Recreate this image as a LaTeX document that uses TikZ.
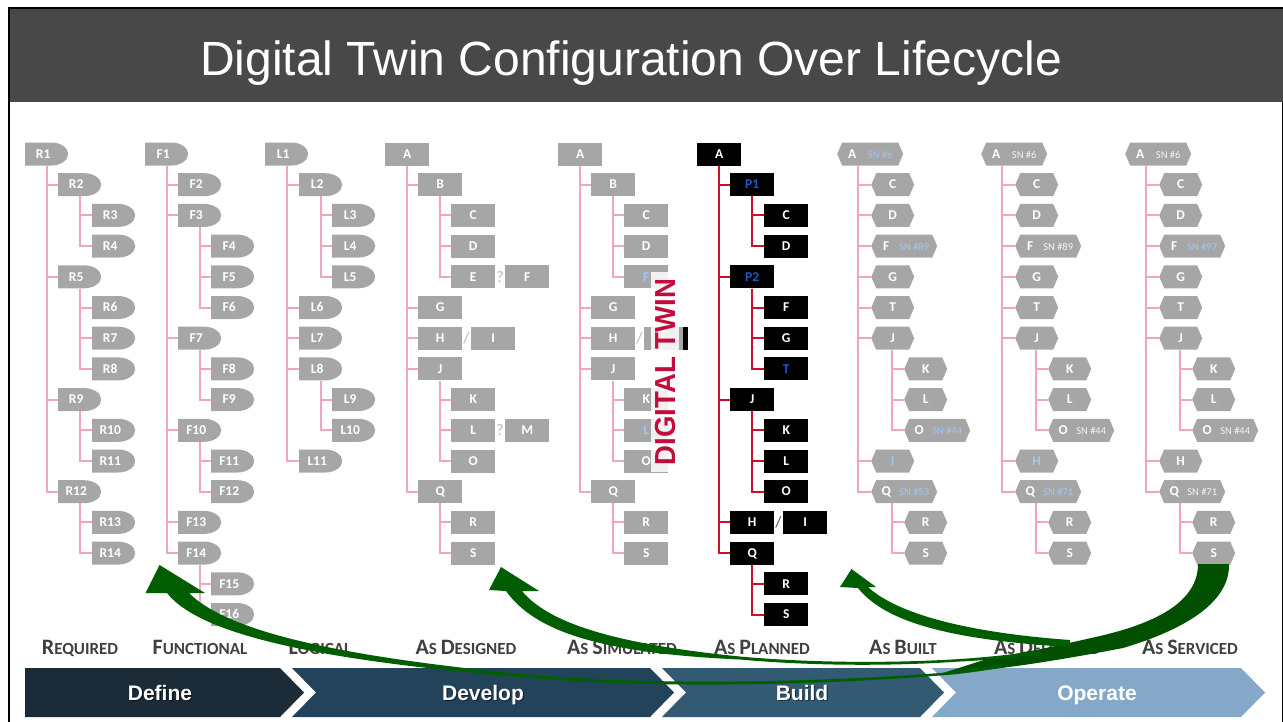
\documentclass[tikz,border=0pt]{standalone}
\usepackage{fontspec}
\usepackage{graphicx}
\setmainfont{Carlito}
\newfontfamily\arialf{Liberation Sans}
\usetikzlibrary{calc}

\definecolor{ngray}{RGB}{166,166,166}
\definecolor{pinkln}{RGB}{242,166,186}
\definecolor{redln}{RGB}{200,16,46}
\definecolor{snblue}{RGB}{162,198,242}
\definecolor{snwhite}{RGB}{244,244,244}
\definecolor{pblue}{RGB}{30,90,200}
\definecolor{qgray}{RGB}{173,185,202}
\definecolor{slashc}{RGB}{68,84,106}
\definecolor{titlebg}{RGB}{72,72,72}
\definecolor{stagetxt}{RGB}{64,64,64}
\definecolor{cdefine}{RGB}{27,43,56}
\definecolor{cdevelop}{RGB}{34,67,90}
\definecolor{cbuild}{RGB}{51,90,115}
\definecolor{coperate}{RGB}{134,168,200}
\definecolor{twinred}{RGB}{196,12,58}
\definecolor{grn}{RGB}{0,94,0}
\definecolor{grnd}{RGB}{0,80,0}

% label helpers
\newcommand\dl[1]{\makebox[36pt]{#1}\hspace*{7pt}}
\newcommand\snf{\fontsize{10.5}{10.5}\selectfont\mdseries}
\newcommand\snl[3]{\makebox[30pt]{#1}\makebox[26pt]{\snf\color{#3}SN \##2}\hspace*{10pt}}
\newcommand\capL[1]{{\fontsize{22}{22}\selectfont #1}}

\tikzset{
  lab/.style={anchor=west, inner sep=0pt, minimum height=23pt, text=white,
    font=\fontsize{13.5}{13.5}\selectfont\bfseries, text height=8.5pt, text depth=0pt},
  dsh/.style={lab, minimum width=43pt, path picture={
    \fill[ngray] (path picture bounding box.south west) -- (path picture bounding box.north west)
      -- ([xshift=-17pt]path picture bounding box.north east)
      .. controls ([xshift=-7.6pt]path picture bounding box.north east) and ([yshift=6.35pt]path picture bounding box.east)
      .. (path picture bounding box.east)
      .. controls ([yshift=-6.35pt]path picture bounding box.east) and ([xshift=-7.6pt]path picture bounding box.south east)
      .. ([xshift=-17pt]path picture bounding box.south east) -- cycle;}},
  rct/.style={lab, minimum width=44pt, fill=ngray},
  blk/.style={lab, minimum width=44pt, fill=black},
  hexg/.style={lab, path picture={
    \fill[ngray] ([xshift=5pt]path picture bounding box.north west) -- ([xshift=-5pt]path picture bounding box.north east)
      -- (path picture bounding box.east) -- ([xshift=-5pt]path picture bounding box.south east)
      -- ([xshift=5pt]path picture bounding box.south west) -- (path picture bounding box.west) -- cycle;}},
  hexs/.style={hexg, minimum width=43pt},
  hexw/.style={hexg, minimum width=66pt},
  pk/.style={draw=pinkln, line width=2pt},
  rd/.style={draw=redln, line width=2pt},
  sepmark/.style={inner sep=0pt, font=\fontsize{16}{16}\selectfont, text=qgray},
  stage/.style={anchor=base, inner sep=0pt, text=stagetxt, font=\fontsize{17}{17}\selectfont\bfseries},
  phase/.style={anchor=base, inner sep=0pt, text=white, font=\arialf\bfseries\fontsize{21}{21}\selectfont},
  phaseshadow/.style={phase, text=black, text opacity=0.45},
}

\begin{document}
\begin{tikzpicture}[x=1pt,y=-1pt]
\useasboundingbox (0,0) rectangle (1283,721);
\fill[white] (0,0) rectangle (1283,721);

% title band and frame
\fill[titlebg] (9,8) rectangle (1283,102);
\draw[black, line width=2.5pt] (9,722) -- (9,8) -- (1283,8);
\draw[black, line width=1pt] (1282,102) -- (1282,722);
\node[anchor=base, inner sep=0pt, text=white, font=\arialf\fontsize{48}{50}\selectfont] (title) at (631,75) {Digital Twin Configuration Over Lifecycle};

% ---------- Required ----------
\node[dsh] (R1) at (25,154) {\dl{R1}};
\node[dsh] (R2) at (58,184.7) {\dl{R2}};
\node[dsh] (R3) at (92,215.4) {\dl{R3}};
\node[dsh] (R4) at (92,246.1) {\dl{R4}};
\node[dsh] (R5) at (58,276.8) {\dl{R5}};
\node[dsh] (R6) at (92,307.5) {\dl{R6}};
\node[dsh] (R7) at (92,338.2) {\dl{R7}};
\node[dsh] (R8) at (92,368.9) {\dl{R8}};
\node[dsh] (R9) at (58,399.6) {\dl{R9}};
\node[dsh] (R10) at (92,430.3) {\dl{R10}};
\node[dsh] (R11) at (92,461) {\dl{R11}};
\node[dsh] (R12) at (58,491.7) {\dl{R12}};
\node[dsh] (R13) at (92,522.4) {\dl{R13}};
\node[dsh] (R14) at (92,553.1) {\dl{R14}};

% ---------- Functional ----------
\node[dsh] (F1) at (145,154) {\dl{F1}};
\node[dsh] (F2) at (178,184.7) {\dl{F2}};
\node[dsh] (F3) at (178,215.4) {\dl{F3}};
\node[dsh] (F4) at (211,246.1) {\dl{F4}};
\node[dsh] (F5) at (211,276.8) {\dl{F5}};
\node[dsh] (F6) at (211,307.5) {\dl{F6}};
\node[dsh] (F7) at (178,338.2) {\dl{F7}};
\node[dsh] (F8) at (211,368.9) {\dl{F8}};
\node[dsh] (F9) at (211,399.6) {\dl{F9}};
\node[dsh] (F10) at (178,430.3) {\dl{F10}};
\node[dsh] (F11) at (211,461) {\dl{F11}};
\node[dsh] (F12) at (211,491.7) {\dl{F12}};
\node[dsh] (F13) at (178,522.4) {\dl{F13}};
\node[dsh] (F14) at (178,553.1) {\dl{F14}};
\node[dsh] (F15) at (211,583.8) {\dl{F15}};
\node[dsh] (F16) at (211,614.5) {\dl{F16}};

% ---------- Logical ----------
\node[dsh] (L1) at (265,154) {\dl{L1}};
\node[dsh] (L2) at (299,184.7) {\dl{L2}};
\node[dsh] (L3) at (332,215.4) {\dl{L3}};
\node[dsh] (L4) at (332,246.1) {\dl{L4}};
\node[dsh] (L5) at (332,276.8) {\dl{L5}};
\node[dsh] (L6) at (299,307.5) {\dl{L6}};
\node[dsh] (L7) at (299,338.2) {\dl{L7}};
\node[dsh] (L8) at (299,368.9) {\dl{L8}};
\node[dsh] (L9) at (332,399.6) {\dl{L9}};
\node[dsh] (L10) at (332,430.3) {\dl{L10}};
\node[dsh] (L11) at (299,461) {\dl{L11}};

\foreach \p/\c in {R1/R2,R1/R5,R1/R9,R1/R12,R2/R3,R2/R4,R5/R6,R5/R7,R5/R8,R9/R10,R9/R11,R12/R13,R12/R14,
  F1/F2,F1/F3,F1/F7,F1/F10,F1/F13,F1/F14,F3/F4,F3/F5,F3/F6,F7/F8,F7/F9,F10/F11,F10/F12,F14/F15,F14/F16,
  L1/L2,L1/L6,L1/L7,L1/L8,L1/L11,L2/L3,L2/L4,L2/L5,L8/L9,L8/L10}
  \draw[pk] ([xshift=21.5pt]\p.south west) |- (\c.west);

% ---------- As Designed ----------
\node[rct] (dA) at (385,154) {A};
\node[rct] (dB) at (418,184.7) {B};
\node[rct] (dC) at (451,215.4) {C};
\node[rct] (dD) at (451,246.1) {D};
\node[rct] (dE) at (451,276.8) {E};
\node[sepmark] (dq1) at (500,276.8) {?};
\node[rct] (dF) at (505,276.8) {F};
\node[rct] (dG) at (418,307.5) {G};
\node[rct] (dH) at (418,338.2) {H};
\node[sepmark] (ds1) at (466.5,338.2) {/};
\node[rct] (dI) at (471,338.2) {I};
\node[rct] (dJ) at (418,368.9) {J};
\node[rct] (dK) at (451,399.6) {K};
\node[rct] (dL) at (451,430.3) {L};
\node[sepmark] (dq2) at (500,430.3) {?};
\node[rct] (dM) at (505,430.3) {M};
\node[rct] (dO) at (451,461) {O};
\node[rct] (dQ) at (418,491.7) {Q};
\node[rct] (dR) at (451,522.4) {R};
\node[rct] (dS) at (451,553.1) {S};
\foreach \p/\c in {dA/dB,dA/dG,dA/dH,dA/dJ,dA/dQ,dB/dC,dB/dD,dB/dE,dJ/dK,dJ/dL,dJ/dO,dQ/dR,dQ/dS}
  \draw[pk] ([xshift=21.5pt]\p.south west) |- (\c.west);

% ---------- As Simulated ----------
\node[rct] (sA) at (558,154) {A};
\node[rct] (sB) at (591,184.7) {B};
\node[rct] (sC) at (624,215.4) {C};
\node[rct] (sD) at (624,246.1) {D};
\node[rct, text=snblue] (sE) at (624,276.8) {F};
\node[rct] (sG) at (591,307.5) {G};
\node[rct] (sH) at (591,338.2) {H};
\node[sepmark] (ss1) at (639.5,338.2) {/};
\node[rct, minimum width=39pt] (sI) at (644,338.2) {I};
\node[rct] (sJ) at (591,368.9) {J};
\node[rct] (sK) at (624,399.6) {K};
\node[rct, text=snblue] (sL) at (624,430.3) {L};
\node[rct] (sO) at (624,461) {O};
\node[rct] (sQ) at (591,491.7) {Q};
\node[rct] (sR) at (624,522.4) {R};
\node[rct] (sS) at (624,553.1) {S};
\foreach \p/\c in {sA/sB,sA/sG,sA/sH,sA/sJ,sA/sQ,sB/sC,sB/sD,sB/sE,sJ/sK,sJ/sL,sJ/sO,sQ/sR,sQ/sS}
  \draw[pk] ([xshift=21.5pt]\p.south west) |- (\c.west);

% digital twin caption with its white halo
\node[rotate=90, fill=white, fill opacity=0.85, text opacity=1, text=twinred, inner xsep=7pt, inner ysep=3.5pt,
  text height=20.8pt, text depth=0pt, font=\arialf\bfseries\fontsize{29}{29}\selectfont]
  (twin) at (665,372) {\scalebox{0.95}[1]{DIGITAL TWIN}};
\fill[black] (683,326.7) rectangle (688,349.7);

% ---------- As Planned ----------
\node[blk] (pA) at (697,154) {A};
\node[blk, text=pblue] (pP1) at (730,184.7) {P1};
\node[blk] (pC) at (764,215.4) {C};
\node[blk] (pD) at (764,246.1) {D};
\node[blk, text=pblue] (pP2) at (730,276.8) {P2};
\node[blk] (pF) at (764,307.5) {F};
\node[blk] (pG) at (764,338.2) {G};
\node[blk, text=pblue] (pT) at (764,368.9) {T};
\node[blk] (pJ) at (730,399.6) {J};
\node[blk] (pK) at (764,430.3) {K};
\node[blk] (pL) at (764,461) {L};
\node[blk] (pO) at (764,491.7) {O};
\node[blk] (pH) at (730,522.4) {H};
\node[sepmark, text=slashc] (ps1) at (778.5,522.4) {/};
\node[blk] (pI) at (783,522.4) {I};
\node[blk] (pQ) at (730,553.1) {Q};
\node[blk] (pR) at (764,583.8) {R};
\node[blk] (pS) at (764,614.5) {S};
\foreach \p/\c in {pA/pP1,pA/pP2,pA/pJ,pA/pH,pA/pQ,pP1/pC,pP1/pD,pP2/pF,pP2/pG,pP2/pT,pJ/pK,pJ/pL,pJ/pO,pQ/pR,pQ/pS}
  \draw[rd] ([xshift=21.5pt]\p.south west) |- (\c.west);

% ---------- As Built ----------
\node[hexw] (bA) at (837,154) {\snl{A}{6}{snblue}};
\node[hexs] (bC) at (871,184.7) {C};
\node[hexs] (bD) at (871,215.4) {D};
\node[hexw] (bF) at (871,246.1) {\snl{F}{89}{snblue}};
\node[hexs] (bG) at (871,276.8) {G};
\node[hexs] (bT) at (871,307.5) {T};
\node[hexs] (bJ) at (871,338.2) {J};
\node[hexs] (bK) at (904,368.9) {K};
\node[hexs] (bL) at (904,399.6) {L};
\node[hexw] (bO) at (904,430.3) {\snl{O}{44}{snblue}};
\node[hexs, text=snblue] (bI) at (871,461) {I};
\node[hexw] (bQ) at (871,491.7) {\snl{Q}{53}{snblue}};
\node[hexs] (bR) at (904,522.4) {R};
\node[hexs] (bS) at (904,553.1) {S};

% ---------- As Delivered ----------
\node[hexw] (vA) at (981,154) {\snl{A}{6}{snwhite}};
\node[hexs] (vC) at (1015,184.7) {C};
\node[hexs] (vD) at (1015,215.4) {D};
\node[hexw] (vF) at (1015,246.1) {\snl{F}{89}{snwhite}};
\node[hexs] (vG) at (1015,276.8) {G};
\node[hexs] (vT) at (1015,307.5) {T};
\node[hexs] (vJ) at (1015,338.2) {J};
\node[hexs] (vK) at (1048,368.9) {K};
\node[hexs] (vL) at (1048,399.6) {L};
\node[hexw] (vO) at (1048,430.3) {\snl{O}{44}{snwhite}};
\node[hexs, text=snblue] (vH) at (1015,461) {H};
\node[hexw] (vQ) at (1015,491.7) {\snl{Q}{71}{snblue}};
\node[hexs] (vR) at (1048,522.4) {R};
\node[hexs] (vS) at (1048,553.1) {S};

% ---------- As Serviced ----------
\node[hexw] (cA) at (1125,154) {\snl{A}{6}{snwhite}};
\node[hexs] (cC) at (1159,184.7) {C};
\node[hexs] (cD) at (1159,215.4) {D};
\node[hexw] (cF) at (1159,246.1) {\snl{F}{97}{snblue}};
\node[hexs] (cG) at (1159,276.8) {G};
\node[hexs] (cT) at (1159,307.5) {T};
\node[hexs] (cJ) at (1159,338.2) {J};
\node[hexs] (cK) at (1192,368.9) {K};
\node[hexs] (cL) at (1192,399.6) {L};
\node[hexw] (cO) at (1192,430.3) {\snl{O}{44}{snwhite}};
\node[hexs] (cH) at (1159,461) {H};
\node[hexw] (cQ) at (1159,491.7) {\snl{Q}{71}{snwhite}};
\node[hexs] (cR) at (1192,522.4) {R};
\node[hexs] (cS) at (1192,553.1) {S};

\foreach \t in {b,v,c}{
  \foreach \p/\c in {A/C,A/D,A/F,A/G,A/T,A/J,A/Q,J/K,J/L,J/O,Q/R,Q/S}
    \draw[pk] ([xshift=21pt]\t\p.south west) |- (\t\c.west);
}
\draw[pk] ([xshift=21pt]bA.south west) |- (bI.west);
\draw[pk] ([xshift=21pt]vA.south west) |- (vH.west);
\draw[pk] ([xshift=21pt]cA.south west) |- (cH.west);

% ---------- stage names ----------
\node[stage] (tReq) at (80,654) {\capL{R}EQUIRED};
\node[stage] (tFun) at (200,654) {\capL{F}UNCTIONAL};
\node[stage] (tLog) at (320,654) {\capL{L}OGICAL};
\node[stage] (tDes) at (466,654) {\capL{A}S \capL{D}ESIGNED};
\node[stage] (tSim) at (622,654) {\capL{A}S \capL{S}IMULATED};
\node[stage] (tPla) at (762,654) {\capL{A}S \capL{P}LANNED};
\node[stage] (tBui) at (903,654) {\capL{A}S \capL{B}UILT};
\node[stage] (tDel) at (1047,654) {\capL{A}S \capL{D}ELIVERED};
\node[stage] (tSer) at (1190,654) {\capL{A}S \capL{S}ERVICED};

% ---------- lifecycle phases ----------
\fill[cdefine] (25,668) -- (280,668) -- (304,692.5) -- (280,717) -- (25,717) -- cycle;
\fill[cdevelop] (292,668) -- (650,668) -- (674,692.5) -- (650,717) -- (292,717) -- (316,692.5) -- cycle;
\fill[cbuild] (662,668) -- (920,668) -- (944,692.5) -- (920,717) -- (662,717) -- (686,692.5) -- cycle;
\fill[coperate] (932,668) -- (1241,668) -- (1265,692.5) -- (1241,717) -- (932,717) -- (956,692.5) -- cycle;
\node[phaseshadow] (pDefS) at (161.3,701.3) {Define};
\node[phaseshadow] (pDevS) at (484.3,701.3) {Develop};
\node[phaseshadow] (pBuiS) at (803.3,701.3) {Build};
\node[phase] (pDef) at (160,700) {Define};
\node[phase] (pDev) at (483,700) {Develop};
\node[phase] (pBui) at (802,700) {Build};
\node[phase] (pOpe) at (1097,700) {Operate};

% ---------- feedback arrows ----------
% trunk leaving the serviced unit S
\fill[grnd] (1198,564) .. controls (1198,600) and (1160,622) .. (1100,636)
  .. controls (1060,645) and (1030,652) .. (990,658)
  -- (940,674) .. controls (1000,670) and (1060,660) .. (1123,648)
  .. controls (1190,628) and (1230,600) .. (1229,564) -- cycle;
% branch back to the build
\fill[grn] (868,587) .. controls (895,612) and (960,632) .. (1070,640)
  -- (1070,647) .. controls (950,640) and (885,622) .. (858,588)
  -- (840,587) -- (851.5,569) -- (876,587) -- cycle;
% branch back to the requirements
\fill[grn] (189,593) .. controls (228,632) and (340,656) .. (516,673.5)
  .. controls (650,686.5) and (820,682) .. (940,673)
  .. controls (960,671) and (980,668) .. (1000,664.5)
  -- (1002,667.5) .. controls (982,671) and (962,674) .. (940,675.5)
  .. controls (820,685) and (650,689.5) .. (514,676.5)
  .. controls (320,660) and (200,635) .. (167,593)
  -- (145.5,593) -- (159.5,565) -- (205,593) -- cycle;
% branch back to the design
\fill[grn] (522,591) .. controls (546,620) and (604,643) .. (740,656.5)
  .. controls (800,662) and (880,664) .. (960,659)
  .. controls (990,657) and (1015,654) .. (1040,651)
  -- (1042,654) .. controls (1017,657) and (992,660) .. (960,661.5)
  .. controls (880,667) and (800,665) .. (740,659.5)
  .. controls (596,653) and (534,630) .. (506,591)
  -- (489,590) -- (501,567) -- (539,591) -- cycle;
\end{tikzpicture}
\end{document}
